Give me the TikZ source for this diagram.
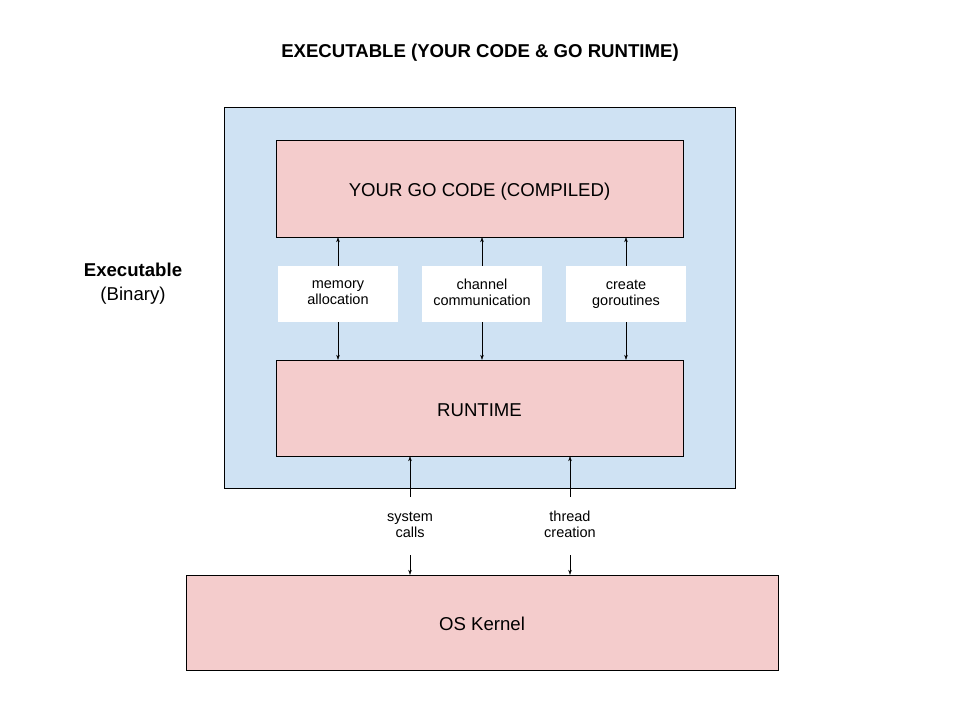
\documentclass[tikz,border=0pt]{standalone}
\usepackage{fontspec}
\setmainfont{Liberation Sans}
\usetikzlibrary{arrows.meta}

\definecolor{paleblue}{HTML}{CFE2F3}
\definecolor{palered}{HTML}{F4CCCC}

\tikzset{
	layer/.style={draw=black, fill=palered, text height=16.5, text depth=0, font=\fontsize{18.6}{22}\selectfont},
	tag/.style={fill=white, minimum width=120, minimum height=56, align=center, font=\fontsize{14.5}{16}\selectfont,
		execute at begin node={\vphantom{Ah}}, execute at end node={\vphantom{g}}},
	call/.style={minimum height=58, align=center, inner sep=0pt, font=\fontsize{14.5}{16}\selectfont,
		execute at begin node={\vphantom{Ah}}, execute at end node={\vphantom{g}}},
	link/.style={-{Stealth[length=5pt, width=3.5pt]}, thin}
}

\begin{document}
\begin{tikzpicture}[x=1pt, y=-1pt]
	\useasboundingbox (0,0) rectangle (960,720);

	% Title
	\node[font=\bfseries\fontsize{18.6}{22}\selectfont] (title) at (480,53) {EXECUTABLE (YOUR CODE \& GO RUNTIME)};

	% The executable itself
	\draw[fill=paleblue] (224,107) rectangle (735,488);
	\node[align=center, font=\fontsize{18.6}{24}\selectfont] (exe) at (133,284) {\textbf{Executable}\\(Binary)};

	% Compiled code and the runtime
	\node[layer, minimum width=407, minimum height=97] (code) at (479.5,188.5) {YOUR GO CODE (COMPILED)};
	\node[layer, minimum width=407, minimum height=96] (runtime) at (479.5,408) {RUNTIME};
	\node[layer, minimum width=592, minimum height=95] (kernel) at (482,622.5) {OS Kernel};

	% Services between code and runtime
	\node[tag] (mem) at (338,294) {memory\\allocation};
	\node[tag] (chan) at (482,294) {channel\\communication};
	\node[tag] (gor) at (626,294) {create\\goroutines};
	\foreach \s in {mem, chan, gor} {
		\draw[link] (\s.north) -- (code.south -| \s);
		\draw[link] (\s.south) -- (runtime.north -| \s);
	}

	% Calls between runtime and kernel
	\node[call] (sys) at (410,526) {system\\calls};
	\node[call] (thr) at (570,526) {thread\\creation};
	\foreach \s in {sys, thr} {
		\draw[link] (\s.north) -- (runtime.south -| \s);
		\draw[link] (\s.south) -- (kernel.north -| \s);
	}
\end{tikzpicture}
\end{document}
